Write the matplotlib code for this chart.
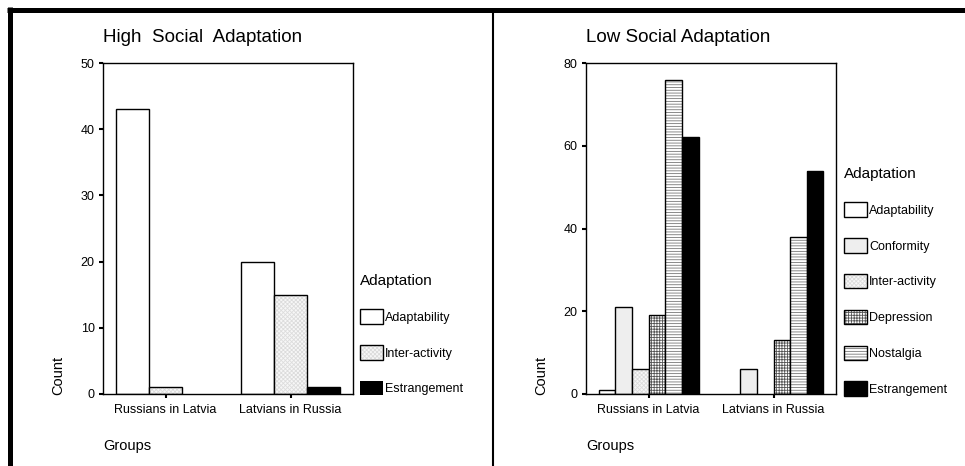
import numpy as np
import matplotlib
matplotlib.use("Agg")
import matplotlib.pyplot as plt
from matplotlib.lines import Line2D

plt.rcParams['font.family'] = ['Liberation Sans', 'DejaVu Sans']
plt.rcParams['hatch.linewidth'] = 0.6

groups = ['Russians in Latvia', 'Latvians in Russia']

# high social adaptation
high_labels = ['Adaptability', 'Inter-activity', 'Estrangement']
high_values = [[43, 1, 0],     # Russians in Latvia
               [20, 15, 1]]    # Latvians in Russia

# low social adaptation
low_labels = ['Adaptability', 'Conformity', 'Inter-activity',
              'Depression', 'Nostalgia', 'Estrangement']
low_values = [[1, 21, 6, 19, 76, 62],
              [0, 6, 0, 13, 38, 54]]

# fill, hatch, hatch colour for each category
styles = {
    'Adaptability':   ('white', None, 'white'),
    'Conformity':     ('#eeeeee', None, '#eeeeee'),
    'Inter-activity': ('#f7f7f7', 'xxxxxxxx', '#dcdcdc'),
    'Depression':     ('white', '++++++', '#555555'),
    'Nostalgia':      ('white', '------', '#777777'),
    'Estrangement':   ('black', None, 'black'),
}

W, H = 965, 466
fig = plt.figure(figsize=(W / 100, H / 100), dpi=100)


def panel(left_px, labels, values, ymax, ystep, title, leg_x, leg_y):
    ax = fig.add_axes([left_px / W, (H - 394) / H, 250 / W, 331 / H])
    vals = np.array(values)
    n = len(labels)
    w = 0.8 / n
    x = np.arange(len(groups))
    handles = []
    for i, lab in enumerate(labels):
        fc, hatch, hc = styles[lab]
        pos = x + (i - (n - 1) / 2) * w
        b1 = ax.bar(pos, vals[:, i], width=w, color=fc, edgecolor=hc,
                    hatch=hatch, linewidth=0)
        b2 = ax.bar(pos, vals[:, i], width=w, fill=False, edgecolor='black',
                    linewidth=1)
        for bar, v in zip(b2, vals[:, i]):
            if v == 0:
                bar.set_visible(False)
        handles.append((b1, b2))
    ax.set_xlim(-0.5, 1.5)
    ax.set_ylim(0, ymax)
    ax.set_yticks(np.arange(0, ymax + 1, ystep))
    ax.set_xticks(x)
    ax.set_xticklabels(groups)
    ax.tick_params(axis='both', direction='out', length=3, width=1.5,
                   labelsize=9, pad=3)
    ax.tick_params(axis='x', pad=4)
    for s in ax.spines.values():
        s.set_linewidth(1)
    fig.text(left_px / W, 1 - 37 / H, title, fontsize=13.5, va='center', ha='left')
    fig.text((left_px - 45) / W, (H - 395) / H, 'Count', rotation=90,
             fontsize=10.5, ha='center', va='bottom')
    fig.text(left_px / W, 1 - 446 / H, 'Groups', fontsize=10.5, va='center')
    fig.legend(handles, labels, loc='upper left',
               bbox_to_anchor=(leg_x / W, 1 - leg_y / H),
               frameon=False, fontsize=9, title='Adaptation',
               title_fontsize=11, alignment='left', borderpad=0,
               borderaxespad=0, handlelength=1.85, handleheight=1.4,
               handletextpad=0.15, labelspacing=1.71)
    return ax


panel(103, high_labels, high_values, 50, 10, 'High  Social  Adaptation', 360, 274)
panel(586, low_labels, low_values, 80, 20, 'Low Social Adaptation', 844, 167)

# frame lines
fig.add_artist(Line2D([7 / W, 1], [1 - 9.5 / H] * 2, color='black', lw=3.6,
                      transform=fig.transFigure, solid_capstyle='butt'))
fig.add_artist(Line2D([9.5 / W] * 2, [0, 1 - 7 / H], color='black', lw=3.6,
                      transform=fig.transFigure, solid_capstyle='butt'))
fig.add_artist(Line2D([493 / W] * 2, [0, 1 - 9.5 / H], color='black', lw=1.5,
                      transform=fig.transFigure, solid_capstyle='butt'))

fig.savefig('out.png', dpi=100)
